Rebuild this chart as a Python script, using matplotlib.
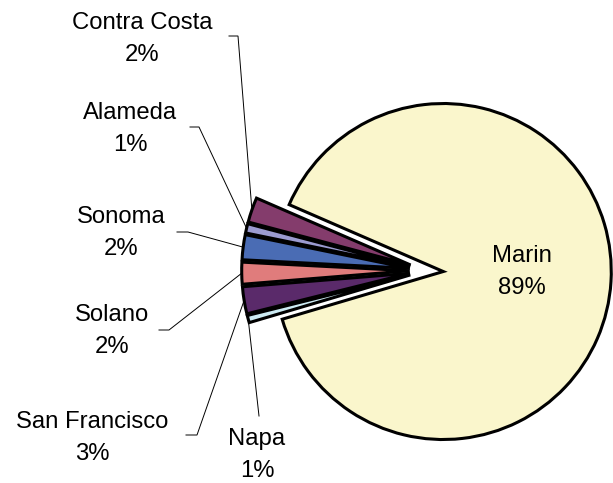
import numpy as np
import matplotlib.pyplot as plt

plt.rcParams['font.family'] = ['Liberation Sans', 'DejaVu Sans']

# county shares of the total (percent)
counties = ["Marin", "Contra Costa", "Alameda", "Sonoma", "Solano", "San Francisco", "Napa"]
shares = [88.9, 2.4, 0.9, 2.4, 2.1, 2.6, 0.7]
pct_labels = ["89%", "2%", "1%", "2%", "2%", "3%", "1%"]
colors = ["#FAF6CC", "#843C6C", "#9B9BD0", "#4A6CB4", "#E07C7C", "#5A2A6A", "#CDEBF3"]

W, H = 613, 483
R = 168.0               # pie radius in pixels
CX, CY = 426.5, 270.5   # pie centre in pixels (from top-left)


def to_data(px, py):
    return (px - CX) / R, (CY - py) / R


fig = plt.figure(figsize=(W / 100, H / 100), dpi=100)
ax = fig.add_axes([0, 0, 1, 1])

wedges, _ = ax.pie(shares, explode=[0.1] * len(shares), colors=colors,
                   startangle=-163.5, counterclock=True, radius=1.0,
                   wedgeprops=dict(edgecolor="black", linewidth=2.2))

x0, y0 = to_data(0, H)
x1, y1 = to_data(W, 0)
ax.set_xlim(x0, x1)
ax.set_ylim(y0, y1)
ax.set_aspect("auto")
ax.axis("off")

fs = 17.2
ls = 1.6

# Marin label sits inside its slice
mx, my = to_data(522, 272)
ax.text(mx, my, f"{counties[0]}\n{pct_labels[0]}", ha="center", va="center",
        fontsize=fs, linespacing=ls)

# outside labels: text centre, leader start, leader knee (pixels)
label_pos = {
    "Contra Costa": ((142, 39), (229, 36), (238, 36)),
    "Alameda": ((130, 129), (190, 127), (199, 127)),
    "Sonoma": ((121, 233), (177, 232), (188, 232)),
    "Solano": ((112, 331), (159, 330), (169, 330)),
    "San Francisco": ((92, 438), (186, 435), (197, 435)),
    "Napa": ((257, 455), (259, 416), (259, 416)),
}

for w, name, pct in zip(wedges[1:], counties[1:], pct_labels[1:]):
    (tx, ty), (sx, sy), (kx, ky) = label_pos[name]
    ax.text(*to_data(tx, ty), f"{name}\n{pct}", ha="center", va="center",
            fontsize=fs, linespacing=ls)
    tm = np.deg2rad(0.5 * (w.theta1 + w.theta2))
    ex = w.center[0] + w.r * np.cos(tm)
    ey = w.center[1] + w.r * np.sin(tm)
    a = to_data(sx, sy)
    b = to_data(kx, ky)
    ax.plot([a[0], b[0], ex], [a[1], b[1], ey], color="black", lw=0.7,
            solid_joinstyle="miter", zorder=0.5)

fig.savefig("out.png", dpi=100)
